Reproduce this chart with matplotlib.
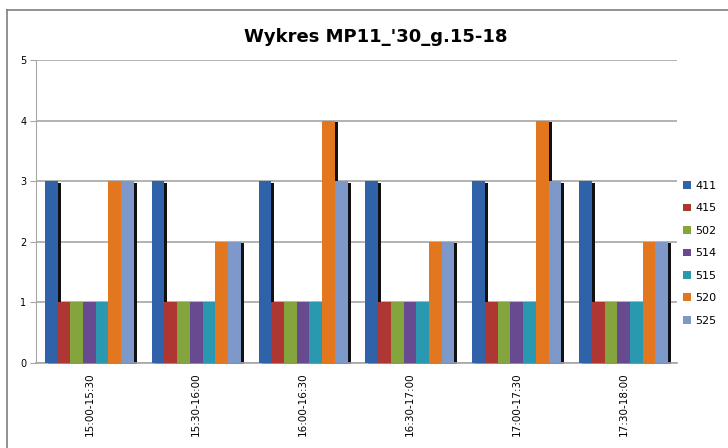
import numpy as np
import matplotlib
matplotlib.use("Agg")
import matplotlib.pyplot as plt
from matplotlib.lines import Line2D
from matplotlib.patches import Patch

categories = ["15:00-15:30", "15:30-16:00", "16:00-16:30",
              "16:30-17:00", "17:00-17:30", "17:30-18:00"]
series_names = ["411", "415", "502", "514", "515", "520", "525"]
s411 = [3, 3, 3, 3, 3, 3]
s415 = [1, 1, 1, 1, 1, 1]
s502 = [1, 1, 1, 1, 1, 1]
s514 = [1, 1, 1, 1, 1, 1]
s515 = [1, 1, 1, 1, 1, 1]
s520 = [3, 2, 4, 2, 4, 2]
s525 = [3, 2, 3, 2, 3, 2]
values = [s411, s415, s502, s514, s515, s520, s525]
colors = ["#2F62A8", "#AE3633", "#84A53D", "#684A90", "#2B98B2", "#E37720", "#7E98C9"]

fig = plt.figure(figsize=(7.28, 4.48), dpi=100)
ax = fig.add_axes([36 / 728, 1 - 363 / 448, 641 / 728, 303 / 448])

x = np.arange(len(categories))
w = 0.119
n = len(series_names)
dx = 0.028   # shadow offset
dy = 0.022

# shadows first
for i in range(n):
    pos = x - w * n / 2 + w * (i + 0.5)
    h = np.array(values[i], dtype=float)
    ax.bar(pos + dx, h, width=w, bottom=-dy, color="#111111", zorder=2,
           linewidth=0, clip_on=False)
for i in range(n):
    pos = x - w * n / 2 + w * (i + 0.5)
    ax.bar(pos, values[i], width=w, color=colors[i], zorder=3, linewidth=0)

ax.set_xlim(-0.5, len(categories) - 0.5)
ax.set_ylim(0, 5)
ax.set_yticks(range(6))
ax.yaxis.grid(True, color="#A6A6A6", linewidth=1.2)
ax.set_axisbelow(True)
for s in ["top", "right"]:
    ax.spines[s].set_visible(False)
ax.spines["left"].set_color("#A6A6A6")
ax.spines["bottom"].set_color("#A6A6A6")
ax.spines["bottom"].set_linewidth(1.2)
ax.tick_params(axis="y", length=4, color="#A6A6A6", labelsize=7, pad=3)
ax.set_xticks(x)
ax.set_xticklabels(categories, rotation=90, fontsize=7.5)
ax.tick_params(axis="x", length=0, pad=7)

fig.text(376 / 728, 1 - 37 / 448, "Wykres MP11_'30_g.15-18", ha="center", va="center",
         fontsize=13, fontweight="bold")

handles = [Patch(facecolor=c, edgecolor="none") for c in colors]
fig.legend(handles, series_names, loc="upper left", bbox_to_anchor=(683 / 728, 1 - 181 / 448),
           frameon=False, fontsize=8, handlelength=0.7, handleheight=0.7,
           handletextpad=0.4, labelspacing=1.12, borderaxespad=0, borderpad=0)

# chart frame
fig.add_artist(Line2D([7 / 728, 1], [1 - 10 / 448, 1 - 10 / 448], color="#7F7F7F", linewidth=1.2))
fig.add_artist(Line2D([7 / 728, 7 / 728], [0, 1 - 10 / 448], color="#7F7F7F", linewidth=1.2))

fig.savefig("out.png", dpi=100)
